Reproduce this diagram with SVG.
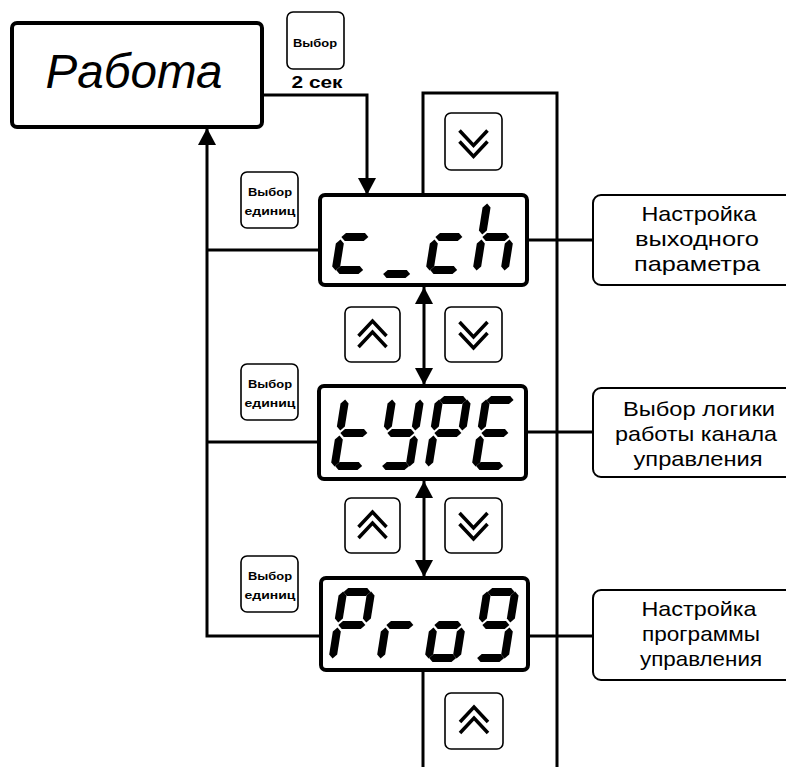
<svg xmlns="http://www.w3.org/2000/svg" xmlns:xlink="http://www.w3.org/1999/xlink" width="786" height="767" viewBox="0 0 786 767">
<style>
.bg{fill:#fff}
.line{fill:none;stroke:#000;stroke-width:3}
.disp{fill:#fff;stroke:#000;stroke-width:4}
.btn{fill:#fff;stroke:#000;stroke-width:1.6}
.lbl{fill:#fff;stroke:#000;stroke-width:2}
.chev{fill:none;stroke:#000;stroke-width:3.5;stroke-linejoin:miter}
.seg{fill:#000}
.t{font-family:"Liberation Sans",Arial,sans-serif;fill:#000}
.small{font-size:10px;font-weight:bold;text-anchor:middle}
.lab{font-size:21px;text-anchor:middle}
</style>
<defs>
<marker id="ah" markerUnits="userSpaceOnUse" markerWidth="18" markerHeight="18" refX="17" refY="9" orient="auto-start-reverse">
<path d="M0,0 L17,9 L0,18 Z" fill="#000"/>
</marker>
<path id="sa" class="seg" d="M4.5,-70 L8.5,-74 L27.5,-74 L31.5,-70 L27.5,-66 L8.5,-66 Z"/>
<path id="sg" class="seg" d="M4.5,-37 L8.5,-41 L27.5,-41 L31.5,-37 L27.5,-33 L8.5,-33 Z"/>
<path id="sd" class="seg" d="M4.5,-4 L8.5,-8 L27.5,-8 L31.5,-4 L27.5,0 L8.5,0 Z"/>
<path id="sf" class="seg" d="M4,-70.5 L8,-66.5 L8,-43.5 L4,-39.5 L0,-43.5 L0,-66.5 Z"/>
<path id="se" class="seg" d="M4,-34.5 L8,-30.5 L8,-7.5 L4,-3.5 L0,-7.5 L0,-30.5 Z"/>
<path id="sb" class="seg" d="M32,-70.5 L36,-66.5 L36,-43.5 L32,-39.5 L28,-43.5 L28,-66.5 Z"/>
<path id="sc" class="seg" d="M32,-34.5 L36,-30.5 L36,-7.5 L32,-3.5 L28,-7.5 L28,-30.5 Z"/>
<path id="up" class="chev" d="M-14,0 L0,-15 L14,0 M-14,11 L0,-4 L14,11"/>
<path id="dn" class="chev" d="M-14,-11 L0,4 L14,-11 M-14,0 L0,15 L14,0"/>
</defs>
<rect class="bg" x="0" y="0" width="786" height="767"/>

<g id="connectors">
<polyline class="line" points="262,95 367,95 367,195" marker-end="url(#ah)"/>
<polyline class="line" points="320,250 207,250"/>
<polyline class="line" points="319,442 207,442"/>
<polyline class="line" points="321,636 207,636 207,128" marker-end="url(#ah)"/>
<polyline class="line" points="423,195 423,93 557,93 557,767"/>
<line class="line" x1="423" y1="670" x2="423" y2="767"/>
<line class="line" x1="424" y1="287" x2="424" y2="385" marker-start="url(#ah)" marker-end="url(#ah)"/>
<line class="line" x1="424" y1="481" x2="424" y2="577" marker-start="url(#ah)" marker-end="url(#ah)"/>
<line class="line" x1="527" y1="240" x2="593" y2="240"/>
<line class="line" x1="526" y1="432" x2="593" y2="432"/>
<line class="line" x1="528" y1="636" x2="593" y2="636"/>
</g>

<g id="rabota">
<rect x="12" y="23" width="250" height="104" rx="5" fill="#fff" stroke="#000" stroke-width="4"/>
<text class="t" x="134" y="88" font-size="48" font-style="italic" text-anchor="middle" textLength="177" lengthAdjust="spacingAndGlyphs">Работа</text>
</g>

<g id="btn-vybor-2sek">
<rect class="btn" x="287" y="12" width="57" height="57" rx="6"/>
<text class="t small" x="315" y="47" textLength="44" lengthAdjust="spacingAndGlyphs">Выбор</text>
<text class="t" x="317" y="88" font-size="16" font-weight="bold" text-anchor="middle" textLength="51" lengthAdjust="spacingAndGlyphs">2 сек</text>
</g>

<g id="btn-units-1">
<rect class="btn" x="241" y="172" width="57" height="56" rx="6"/>
<text class="t small" x="270" y="196" textLength="44" lengthAdjust="spacingAndGlyphs">Выбор</text>
<text class="t small" x="270" y="215" textLength="51" lengthAdjust="spacingAndGlyphs">единиц</text>
</g>
<g id="btn-units-2">
<rect class="btn" x="241" y="364" width="57" height="56" rx="6"/>
<text class="t small" x="270" y="388" textLength="44" lengthAdjust="spacingAndGlyphs">Выбор</text>
<text class="t small" x="270" y="407" textLength="51" lengthAdjust="spacingAndGlyphs">единиц</text>
</g>
<g id="btn-units-3">
<rect class="btn" x="241" y="556" width="57" height="56" rx="6"/>
<text class="t small" x="270" y="580" textLength="44" lengthAdjust="spacingAndGlyphs">Выбор</text>
<text class="t small" x="270" y="599" textLength="51" lengthAdjust="spacingAndGlyphs">единиц</text>
</g>

<g id="btn-down-top">
<rect class="btn" x="445" y="113" width="57" height="57" rx="6"/>
<use href="#dn" transform="translate(473.5,141.5)"/>
</g>
<g id="btn-up-1">
<rect class="btn" x="345" y="307" width="55" height="55" rx="6"/>
<use href="#up" transform="translate(372.5,336)"/>
</g>
<g id="btn-down-1">
<rect class="btn" x="445" y="307" width="57" height="55" rx="6"/>
<use href="#dn" transform="translate(473.5,333)"/>
</g>
<g id="btn-up-2">
<rect class="btn" x="345" y="498" width="55" height="55" rx="6"/>
<use href="#up" transform="translate(372.5,527)"/>
</g>
<g id="btn-down-2">
<rect class="btn" x="445" y="498" width="57" height="55" rx="6"/>
<use href="#dn" transform="translate(473.5,524)"/>
</g>
<g id="btn-up-bottom">
<rect class="btn" x="445" y="693" width="58" height="56" rx="6"/>
<use href="#up" transform="translate(474,722)"/>
</g>

<g id="disp-c_ch">
<rect class="disp" x="320" y="195" width="207" height="90" rx="5"/>
<g transform="translate(331,274) skewX(-9)"><use href="#sg"/><use href="#se"/><use href="#sd"/></g>
<g transform="translate(378,278) skewX(-9)"><use href="#sd"/></g>
<g transform="translate(425,274) skewX(-9)"><use href="#sg"/><use href="#se"/><use href="#sd"/></g>
<g transform="translate(472,274) skewX(-9)"><use href="#sf"/><use href="#se"/><use href="#sg"/><use href="#sc"/></g>
</g>

<g id="disp-tYPE">
<rect class="disp" x="319" y="386" width="207" height="93" rx="5"/>
<g transform="translate(330,470) skewX(-9)"><use href="#sf"/><use href="#se"/><use href="#sg"/><use href="#sd"/></g>
<g transform="translate(377,470) skewX(-9)"><use href="#sf"/><use href="#sb"/><use href="#sg"/><use href="#sc"/><use href="#sd"/></g>
<g transform="translate(424,470) skewX(-9)"><use href="#sa"/><use href="#sb"/><use href="#sf"/><use href="#sg"/><use href="#se"/></g>
<g transform="translate(471,470) skewX(-9)"><use href="#sa"/><use href="#sf"/><use href="#sg"/><use href="#se"/><use href="#sd"/></g>
</g>

<g id="disp-ProG">
<rect class="disp" x="321" y="578" width="207" height="92" rx="5"/>
<g transform="translate(328,662) skewX(-9)"><use href="#sa"/><use href="#sb"/><use href="#sf"/><use href="#sg"/><use href="#se"/></g>
<g transform="translate(376,662) skewX(-9)"><use href="#sg"/><use href="#se"/></g>
<g transform="translate(424,662) skewX(-9)"><use href="#sg"/><use href="#sc"/><use href="#sd"/><use href="#se"/></g>
<g transform="translate(472,662) skewX(-9)"><use href="#sa"/><use href="#sb"/><use href="#sc"/><use href="#sd"/><use href="#sf"/><use href="#sg"/></g>
</g>

<g id="label-1">
<rect class="lbl" x="593" y="195" width="220" height="90" rx="8"/>
<text class="t lab" x="699" y="221" textLength="115" lengthAdjust="spacingAndGlyphs">Настройка</text>
<text class="t lab" x="697" y="246" textLength="124" lengthAdjust="spacingAndGlyphs">выходного</text>
<text class="t lab" x="697" y="271" textLength="126" lengthAdjust="spacingAndGlyphs">параметра</text>
</g>
<g id="label-2">
<rect class="lbl" x="593" y="388" width="220" height="89" rx="8"/>
<text class="t lab" x="699" y="416" textLength="152" lengthAdjust="spacingAndGlyphs">Выбор логики</text>
<text class="t lab" x="696" y="441" textLength="162" lengthAdjust="spacingAndGlyphs">работы канала</text>
<text class="t lab" x="698" y="466" textLength="129" lengthAdjust="spacingAndGlyphs">управления</text>
</g>
<g id="label-3">
<rect class="lbl" x="593" y="590" width="220" height="90" rx="8"/>
<text class="t lab" x="699" y="616" textLength="115" lengthAdjust="spacingAndGlyphs">Настройка</text>
<text class="t lab" x="701" y="641" textLength="118" lengthAdjust="spacingAndGlyphs">программы</text>
<text class="t lab" x="701" y="666" textLength="122" lengthAdjust="spacingAndGlyphs">управления</text>
</g>
</svg>
